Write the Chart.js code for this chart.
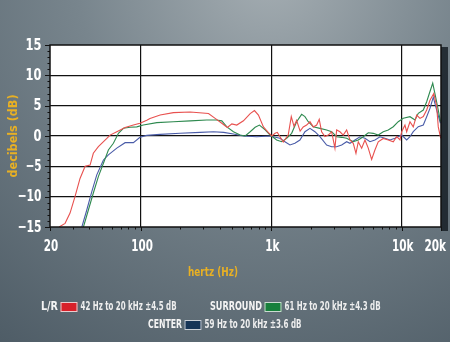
<!DOCTYPE html>
<html>
<head>
<meta charset="utf-8">
<script src="https://cdn.jsdelivr.net/npm/chart.js@4.4.1/dist/chart.umd.min.js"></script>
<style>
    html, body { margin: 0; padding: 0; background: #56636d; }
    #wrap { width: 450px; height: 342px; }
</style>
</head>
<body>
<div id="wrap"><canvas id="responseChart" width="450" height="342"></canvas></div>
<script>
// Frequency response, [Hz, dB] pairs per speaker group
const lrResponse = [
    [23.5, -15], [26.1, -14.4], [28.5, -12.7], [31.1, -10], [34, -7], [37.2, -5], [40.6, -4.8],
    [43, -2.85], [47, -1.75], [54.6, -0.4], [57.8, 0.15], [65.1, 0.7], [75.4, 1.4], [87.3, 1.8],
    [98, 2.1], [110.6, 2.6], [117, 2.9], [140, 3.45], [177, 3.85], [238, 3.95], [329, 3.7],
    [370, 2.9], [416, 2.1], [459, 1.4], [497, 2.0], [542, 1.8], [610, 2.5], [687, 3.7], [741, 4.2],
    [795, 3.45], [868, 1.5], [948, 0.55], [1007, 0], [1067, 0.45], [1110, 0.6], [1232, -1.0],
    [1346, 0.2], [1420, 3.2], [1490, 1.6], [1560, 2.6], [1660, 0.8], [1754, 1.5], [1862, 1.8],
    [1975, 2.35], [2094, 1.5], [2223, 1.8], [2327, 2.75], [2427, 0.7], [2574, -0.1], [2729, 0.15],
    [2897, 0.7], [3070, -2.0], [3165, 1.0], [3356, 0.7], [3556, 0.15], [3777, 1.0], [4004, -0.65],
    [4245, -1.2], [4452, -2.85], [4638, -0.95], [4924, -2.0], [5220, -0.65], [5533, -2.0],
    [5873, -3.85], [6224, -2.3], [6600, -0.95], [7211, -0.4], [7878, -0.65], [8606, -0.95],
    [9140, -0.1], [9690, -0.65], [9980, 0.7], [10580, 1.8], [10905, 0.7], [11560, 2.35],
    [12250, 1.5], [13010, 3.45], [13800, 2.9], [14630, 3.2], [15530, 4.3], [16460, 5.9],
    [17600, 7.0], [18500, 5.0], [19060, 1.5], [19900, -0.4]
];
const surroundResponse = [
    [36.1, -15], [39.4, -12.2], [43, -9.4], [47, -6.7], [51.4, -4.5], [56.1, -2.3], [61.3, -1.2],
    [67, 0.45], [73.1, 1.27], [82.3, 1.43], [92.7, 1.5], [104, 1.8], [132, 2.2], [177, 2.35],
    [238, 2.5], [319, 2.64], [378, 2.64], [416, 2.5], [455, 1.5], [511, 0.7], [575, 0.16],
    [629, 0], [687, 0.7], [750, 1.43], [809, 1.8], [895, 1.0], [977, 0.16], [1032, -0.2],
    [1096, -0.66], [1198, -0.94], [1308, -0.4], [1429, 0.44], [1561, 2.36], [1705, 3.57],
    [1808, 3.2], [1916, 2.36], [2094, 1.53], [2356, 1.26], [2652, 0.99], [2897, 0.71],
    [3165, -0.12], [3458, -0.22], [3777, -0.38], [4245, -0.94], [4638, -0.66], [5064, -0.12],
    [5533, 0.54], [6043, 0.44], [6600, 0.16], [7211, 0.71], [7878, 0.99], [8606, 1.53],
    [9397, 2.36], [10270, 2.92], [11560, 3.18], [12630, 2.64], [13390, 3.74], [14630, 4.28],
    [15530, 5.65], [16270, 7.0], [17280, 8.7], [18200, 6.4], [19060, 4.28], [19800, 2.36]
];
const centerResponse = [
    [35.1, -15], [38.3, -12.2], [41.8, -9.2], [45.7, -6.4], [51.4, -3.95], [56.1, -3.1],
    [65.1, -2], [75.4, -1.1], [87.3, -1.1], [98, -0.2], [110.6, 0.1], [140, 0.27], [199, 0.45],
    [284, 0.6], [359, 0.7], [430, 0.6], [511, 0.33], [610, 0], [770, -0.12], [977, 0],
    [1162, -0.38], [1269, -0.94], [1387, -1.48], [1514, -1.2], [1654, -0.66], [1808, 0.71],
    [1975, 1.26], [2157, 0.71], [2356, -0.12], [2652, -1.48], [2897, -1.76], [3165, -1.76],
    [3458, -1.48], [3777, -0.94], [4004, -1.2], [4373, -0.66], [4781, -0.12], [5220, -0.38],
    [5702, -0.94], [6224, -0.66], [6802, -0.12], [7430, -0.38], [8120, -0.66], [8872, -0.38],
    [9980, 0.16], [10905, -0.66], [11560, -0.12], [12250, 0.71], [13390, 1.53], [14630, 1.81],
    [15530, 3.18], [16460, 4.56], [17450, 6.4], [18530, 4.28], [19800, 2.1]
];

const seriesNames = ['L/R', 'SURROUND', 'CENTER'];
const seriesNotes = ['42 Hz to 20 kHz \u00b14.5 dB', '61 Hz to 20 kHz \u00b14.3 dB', '59 Hz to 20 kHz \u00b13.6 dB'];
const lineColors = ['#e8514f', '#2f8a50', '#4a5ca8'];
const swatchColors = ['#d8202a', '#17803c', '#163456'];

const yLabelValues = [-15, -10, -5, 0, 5, 10, 15];
const xLabelValues = [20, 100, 1000, 10000, 20000];
const xLabelTexts = ['20', '100', '1k', '10k', '20k'];
const xMinorValues = [30, 40, 50, 60, 70, 80, 90, 200, 300, 400, 500, 600, 700, 800, 900,
    2000, 3000, 4000, 5000, 6000, 7000, 8000, 9000];
const xGridValues = [100, 1000, 10000];

const GOLD = '#e8b024';
const FONT = '"DejaVu Sans Condensed", "DejaVu Sans", sans-serif';

function toPoints(pairs) {
    return pairs.map(p => ({ x: p[0], y: p[1] }));
}

// Squeezed text helper: fillText with maxWidth gives the narrow face look
function drawText(ctx, text, x, y, font, color, align, maxWidth) {
    ctx.font = font;
    ctx.fillStyle = color;
    ctx.textAlign = align;
    ctx.textBaseline = 'middle';
    ctx.fillText(text, x, y, maxWidth);
}

const decorPlugin = {
    id: 'decor',
    beforeDraw(chart) {
        const { ctx, chartArea: a, width, height } = chart;
        ctx.save();
        const bg = ctx.createRadialGradient(270, -30, 10, 270, -30, 470);
        bg.addColorStop(0, '#a3acb1');
        bg.addColorStop(0.4, '#78858d');
        bg.addColorStop(1, '#4d5b65');
        ctx.fillStyle = bg;
        ctx.fillRect(0, 0, width, height);

        // dark shadow strip on the right of the plot
        ctx.fillStyle = 'rgba(22, 30, 38, 0.85)';
        ctx.fillRect(a.right, a.top + 2, 7, a.bottom - a.top + 2);

        ctx.fillStyle = '#ffffff';
        ctx.fillRect(a.left, a.top, a.right - a.left, a.bottom - a.top);
        ctx.restore();
    },
    afterDatasetsDraw(chart) {
        const { ctx, chartArea: a } = chart;
        const xs = chart.scales.x, ys = chart.scales.y;
        ctx.save();
        ctx.strokeStyle = '#111';
        ctx.lineWidth = 1.5;
        ctx.strokeRect(a.left, a.top, a.right - a.left, a.bottom - a.top);

        // tick marks on the left edge, one per dB
        ctx.lineWidth = 1;
        ctx.beginPath();
        for (let v = -15; v <= 15; v++) {
            const y = Math.round(ys.getPixelForValue(v)) + 0.5;
            const len = v % 5 === 0 ? 5 : 2.5;
            ctx.moveTo(a.left - len, y);
            ctx.lineTo(a.left, y);
        }
        // tick marks under the bottom edge
        xLabelValues.concat(xMinorValues).forEach(f => {
            const x = Math.round(xs.getPixelForValue(f)) + 0.5;
            const len = xLabelValues.includes(f) ? 4 : 2.5;
            ctx.moveTo(x, a.bottom);
            ctx.lineTo(x, a.bottom + len);
        });
        ctx.stroke();
        ctx.restore();
    },
    afterDraw(chart) {
        const { ctx, chartArea: a } = chart;
        const xs = chart.scales.x, ys = chart.scales.y;
        ctx.save();

        yLabelValues.forEach(v => {
            const text = v < 0 ? '\u2212' + Math.abs(v) : String(v);
            drawText(ctx, text, a.left - 8.5, ys.getPixelForValue(v) + 0.5,
                'bold 16px ' + FONT, '#ffffff', 'right', 8 * text.length);
        });

        xLabelValues.forEach((f, i) => {
            const text = xLabelTexts[i];
            const w = 7.2 * text.length;
            const x = Math.min(xs.getPixelForValue(f) + 1, 446 - w / 2);
            drawText(ctx, text, x, a.bottom + 20, 'bold 15px ' + FONT, '#ffffff', 'center', w);
        });

        // axis titles
        drawText(ctx, 'hertz (Hz)', 213, a.bottom + 46, 'bold 13px ' + FONT, GOLD, 'center', 50);
        ctx.save();
        ctx.translate(14, (a.top + a.bottom) / 2);
        ctx.rotate(-Math.PI / 2);
        drawText(ctx, 'decibels (dB)', 0, 0, 'bold 13px ' + FONT, GOLD, 'center', 83);
        ctx.restore();

        // legend: name, colour swatch, range note
        const slots = [
            { x: 41, y: 307, nameW: 17, noteW: 96 },
            { x: 210, y: 307, nameW: 52, noteW: 96 },
            { x: 148, y: 325, nameW: 34, noteW: 97 }
        ];
        slots.forEach((s, i) => {
            ctx.font = 'bold 13px ' + FONT;
            const nw = Math.min(ctx.measureText(seriesNames[i]).width, s.nameW);
            drawText(ctx, seriesNames[i], s.x, s.y, 'bold 13px ' + FONT, '#f4f4f4', 'left', s.nameW);
            const bx = s.x + nw + 2.5;
            ctx.fillStyle = swatchColors[i];
            ctx.fillRect(bx, s.y - 5, 17, 10);
            ctx.strokeStyle = 'rgba(235, 235, 235, 0.85)';
            ctx.lineWidth = 1;
            ctx.strokeRect(bx + 0.5, s.y - 4.5, 16, 9);
            drawText(ctx, seriesNotes[i], bx + 20, s.y, 'bold 12.5px ' + FONT, '#eeeeee', 'left', s.noteW);
        });
        ctx.restore();
    }
};

const ctx = document.getElementById('responseChart').getContext('2d');
new Chart(ctx, {
    type: 'line',
    data: {
        datasets: [lrResponse, surroundResponse, centerResponse].map((pairs, i) => ({
            label: seriesNames[i],
            data: toPoints(pairs),
            borderColor: lineColors[i],
            borderWidth: 1.1,
            pointRadius: 0,
            tension: 0,
            fill: false
        }))
    },
    options: {
        responsive: false,
        animation: false,
        devicePixelRatio: 1,
        layout: { padding: { left: 50, right: 9, top: 45, bottom: 115 } },
        plugins: { legend: { display: false }, tooltip: { enabled: false } },
        scales: {
            x: {
                type: 'logarithmic',
                min: 20,
                max: 20000,
                afterBuildTicks: scale => {
                    scale.ticks = xGridValues.map(v => ({ value: v }));
                },
                ticks: { display: false },
                border: { display: false },
                grid: { color: '#111', lineWidth: 1.2, drawTicks: false }
            },
            y: {
                min: -15,
                max: 15,
                ticks: { display: false, stepSize: 5 },
                border: { display: false },
                grid: {
                    color: c => Math.abs(c.tick.value) === 15 ? 'rgba(0,0,0,0)' : '#111',
                    lineWidth: 1.2,
                    drawTicks: false
                }
            }
        }
    },
    plugins: [decorPlugin]
});
</script>
</body>
</html>
